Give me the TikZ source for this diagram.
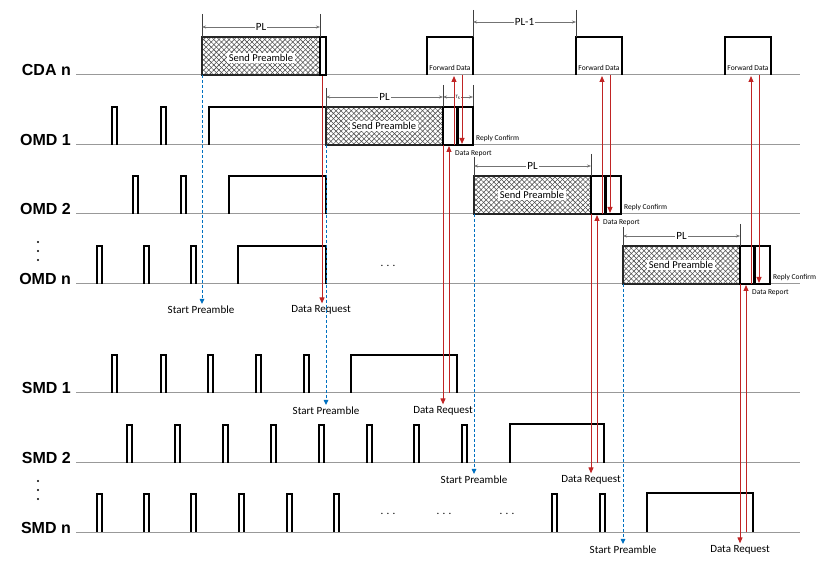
\documentclass[tikz,border=0pt]{standalone}
\usepackage{fontspec}
\setmainfont{Carlito}
\newfontfamily\rowfont{Liberation Sans}
\usetikzlibrary{arrows.meta,patterns.meta}
\definecolor{reqred}{RGB}{192,36,36}
\definecolor{startblue}{RGB}{0,112,192}

\begin{document}
\begin{tikzpicture}[x=1pt, y=-1pt,
  base/.style={draw=black!40, line width=1pt},
  sig/.style={draw=black, line width=1.1pt},
  hatchne/.style={pattern={Lines[angle=45, distance=3.6pt, line width=0.55pt]}, pattern color=black!70},
  hatchnw/.style={pattern={Lines[angle=-45, distance=3.6pt, line width=0.55pt]}, pattern color=black!70},
  rowlabel/.style={anchor=base east, inner sep=0pt, font=\rowfont\bfseries\fontsize{16}{16}\selectfont},
  sendtext/.style={fill=white, inner sep=1.5pt, font=\fontsize{10.5}{11}\selectfont},
  tiny/.style={inner sep=0pt, font=\fontsize{7.5}{8}\selectfont},
  evt/.style={inner sep=2pt, font=\fontsize{11}{12}\selectfont},
  pltext/.style={fill=white, inner sep=1pt, font=\fontsize{11}{12}\selectfont},
  dim/.style={draw=black!55, line width=0.5pt, {Stealth[length=4pt,width=3pt]}-{Stealth[length=4pt,width=3pt]}},
  tick/.style={draw=black!75, line width=0.6pt},
  req/.style={draw=reqred, line width=1pt, -{Triangle[length=6pt,width=5pt]}},
  start/.style={draw=startblue, line width=1pt, dash pattern=on 3pt off 2pt, -{Triangle[length=5pt,width=4.5pt]}}
]
\useasboundingbox (0,0) rectangle (820,569);

\foreach \n/\t/\y in {cda/CDA n/75, omda/OMD 1/145, omdb/OMD 2/214, omdn/OMD n/284, smda/SMD 1/393, smdb/SMD 2/463, smdn/SMD n/532}
{
  \node[rowlabel] (\n) at (71,\y+1) {\t};
  \draw[base] (76,\y) -- (800,\y);
}
\foreach \d in {242,251,260} \fill (38,\d) circle (1.1pt);
\foreach \d in {481,490,499} \fill (38,\d) circle (1.1pt);

\foreach \y/\xs in {145/{112,161}, 214/{133,181}, 284/{97,144,191}, 393/{112,161,208,256,304}, 463/{127,175,223,271,319,367,414,462}, 532/{97,144,191,239,287,334,552,600}}
  \foreach \x in \xs
    \draw[sig] (\x,\y) -- ++(0,-38) -- ++(5,0) -- ++(0,38);

\draw[sig] (209,145) |- (326,107);
\draw[sig] (229,214) |- (326,176) -- (326,214);
\draw[sig] (238,284) |- (326,246) -- (326,284);
\draw[sig] (351,393) |- (457,355) -- (457,393);
\draw[sig] (510,463) |- (604,424) -- (604,463);
\draw[sig] (647,532) |- (753,493) -- (753,532);

\fill[hatchne] (202,75) rectangle (320,37);
\fill[hatchnw] (202,75) rectangle (320,37);
\draw[sig, draw=black!85] (202,75) rectangle (320,37);
\node[sendtext] (sendc) at (261,58) {Send Preamble};
\draw[sig] (320,75) rectangle (326,37);

\foreach \x [count=\i] in {427,576,725}
{
  \draw[sig] (\x,75) |- (\x+46,37) -- (\x+46,75);
  \node[tiny, anchor=base] (fwd\i) at (\x+23,71) {Forward Data};
}

\draw[tick] (202,14) -- (202,37);
\draw[tick] (320,14) -- (320,37);
\coordinate (cpla) at (202,27);
\coordinate (cplb) at (320,27);
\draw[dim] (cpla) -- node[pltext] (plc) {PL} (cplb);

\draw[tick] (473,10) -- (473,37);
\draw[tick] (576,10) -- (576,37);
\coordinate (pma) at (473,22);
\coordinate (pmb) at (576,22);
\draw[dim] (pma) -- node[pltext] (plm) {PL-1} (pmb);

\draw[tick] (473,85) -- (473,107);
\coordinate (tsa) at (443,97);
\coordinate (tsb) at (473,97);
\draw[dim] (tsa) -- node[fill=white, inner sep=0.5pt, font=\fontsize{5}{5}\selectfont] (ts) {T\textsubscript{s}} (tsb);

\node[evt] (st0) at (201,310) {Start Preamble};
\node[evt] (dr0) at (321,310) {Data Request};
\coordinate (sp0) at (202,75);
\coordinate (rq0) at (322,76);
\draw[start] (sp0) -- (sp0 |- st0.north);
\draw[req] (rq0) -- (rq0 |- dr0.north);

\foreach \i/\x/\y/\s/\d in {a/326/145/393/411, b/474/214/463/480, n/623/284/532/550}
{
  \fill[hatchne] (\x,\y) rectangle ++(117,-38);
  \fill[hatchnw] (\x,\y) rectangle ++(117,-38);
  \draw[sig, draw=black!85] (\x,\y) rectangle ++(117,-38);
  \node[sendtext] (send\i) at (\x+58,\y-19) {Send Preamble};
  \draw[sig] (\x+117,\y) rectangle ++(14,-38);
  \draw[sig] (\x+132,\y) rectangle ++(15,-38);
  \node[tiny, anchor=base west] (conf\i) at (\x+150,\y-4) {Reply Confirm};
  \node[tiny, anchor=base west] (rep\i) at (\x+129,\y+11) {Data Report};
  \draw[tick] (\x,\y-57) -- (\x,\y-38);
  \draw[tick] (\x+117,\y-60) -- (\x+117,\y-38);
  \coordinate (pla\i) at (\x,\y-48);
  \coordinate (plb\i) at (\x+117,\y-48);
  \draw[dim] (pla\i) -- node[pltext] (pl\i) {PL} (plb\i);
  \node[evt] (st\i) at (\x,\d) {Start Preamble};
  \node[evt] (dr\i) at (\x+117,\d) {Data Request};
  \coordinate (sp\i) at (\x,\y);
  \coordinate (rq\i) at (\x+117,\y);
  \coordinate (rpa\i) at (\x+123,\s);
  \coordinate (rpb\i) at (\x+123,\y+1);
  \coordinate (fwa\i) at (\x+128,\y);
  \coordinate (fwb\i) at (\x+128,76);
  \coordinate (cfa\i) at (\x+136,75);
  \coordinate (cfb\i) at (\x+136,\y-1);
  \draw[start] (sp\i) -- (st\i.north);
  \draw[req] (rq\i) -- (rq\i |- dr\i.north);
  \draw[req] (rpa\i) -- (rpb\i);
  \draw[req] (fwa\i) -- (fwb\i);
  \draw[req] (cfa\i) -- (cfb\i);
}

\node[evt] (gapo) at (388,266) {. . .};
\node[evt] (gapa) at (388,514) {. . .};
\node[evt] (gapb) at (444,514) {. . .};
\node[evt] (gapc) at (507,514) {. . .};
\end{tikzpicture}
\end{document}
